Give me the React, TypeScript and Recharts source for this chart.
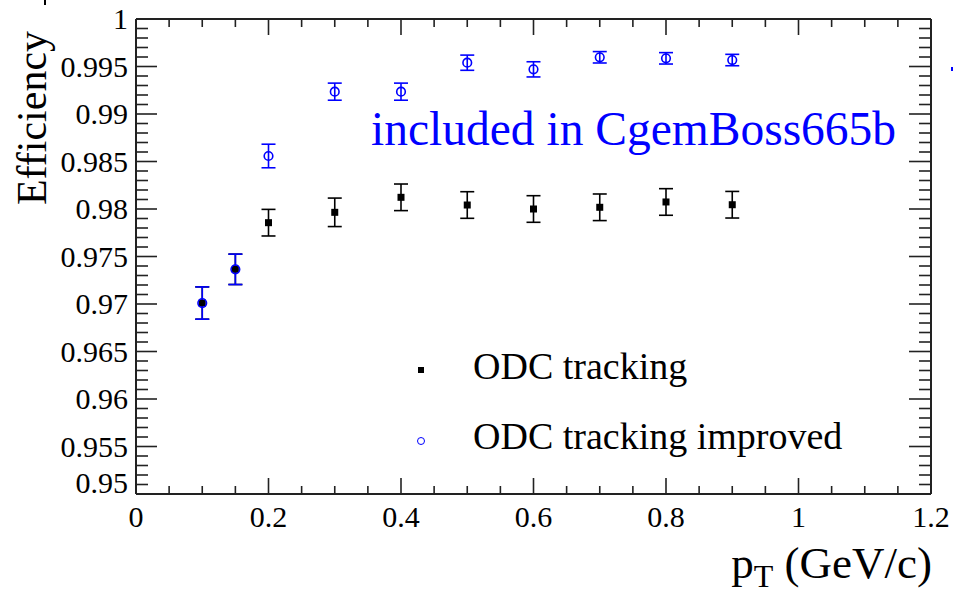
import React from "react";
import { ScatterChart, Scatter, XAxis, YAxis, ErrorBar } from "recharts";

const pt = [0.1, 0.15, 0.2, 0.3, 0.4, 0.5, 0.6, 0.7, 0.8, 0.9];
const odc = [0.9701, 0.97365, 0.97856, 0.97965, 0.98123, 0.98042, 0.98, 0.98018, 0.98074, 0.98045];
const odcErr = [0.0017, 0.0016, 0.0014, 0.0015, 0.0014, 0.0014, 0.0014, 0.0014, 0.0014, 0.0014];
const improved = [0.9701, 0.97365, 0.98558, 0.99235, 0.99235, 0.9954, 0.9947, 0.99597, 0.99586, 0.99568];
const improvedErr = [0.0017, 0.0016, 0.00124, 0.0009, 0.0009, 0.0008, 0.0008, 0.0006, 0.0006, 0.0006];

const xMajorTicks = [0, 0.2, 0.4, 0.6, 0.8, 1, 1.2];
const xMajorLabels = ["0", "0.2", "0.4", "0.6", "0.8", "1", "1.2"];
const yMajorTicks = [0.95, 0.955, 0.96, 0.965, 0.97, 0.975, 0.98, 0.985, 0.99, 0.995, 1];
const yMajorLabels = ["0.95", "0.955", "0.96", "0.965", "0.97", "0.975", "0.98", "0.985", "0.99", "0.995", "1"];

const xMinorPerMajor = 4;
const yMinorPerMajor = 5;

function subdivide(major: number[], n: number): number[] {
  const out: number[] = [];
  for (let i = 0; i < major.length - 1; i++) {
    const a = major[i];
    const b = major[i + 1];
    for (let k = 0; k < n; k++) out.push(+(a + ((b - a) * k) / n).toFixed(6));
  }
  out.push(major[major.length - 1]);
  return out;
}

const xTicks = subdivide(xMajorTicks, xMinorPerMajor);
const yTicks = subdivide(yMajorTicks, yMinorPerMajor);

const odcData = pt.map((x, i) => ({ x, y: odc[i], err: odcErr[i] }));
const impData = pt.map((x, i) => ({ x, y: improved[i], err: improvedErr[i] }));

const FONT = "'Liberation Serif', 'Times New Roman', serif";
const AX = "#222";
const BLUE = "#0000ff";

function majorIndex(list: number[], v: number) {
  return list.findIndex((m) => Math.abs(m - v) < 1e-7);
}

const BottomTick = (props: any) => {
  const { x, y, payload } = props;
  const mi = majorIndex(xMajorTicks, payload.value);
  const len = mi >= 0 ? 16 : 8;
  return (
    <g>
      <line x1={x} y1={y} x2={x} y2={y - len} stroke={AX} strokeWidth={1.6} />
      {mi >= 0 && (
        <text x={x} y={y + 33} textAnchor="middle" fontFamily={FONT} fontSize={30} fill="#000">
          {xMajorLabels[mi]}
        </text>
      )}
    </g>
  );
};

const TopTick = (props: any) => {
  const { x, y, payload } = props;
  const mi = majorIndex(xMajorTicks, payload.value);
  const len = mi >= 0 ? 16 : 8;
  return <line x1={x} y1={y} x2={x} y2={y + len} stroke={AX} strokeWidth={1.6} />;
};

const LeftTick = (props: any) => {
  const { x, y, payload } = props;
  const mi = majorIndex(yMajorTicks, payload.value);
  const len = mi >= 0 ? 21 : 12;
  const dy = mi === 0 ? -1 : 10;
  return (
    <g>
      <line x1={x} y1={y} x2={x + len} y2={y} stroke={AX} strokeWidth={1.6} />
      {mi >= 0 && (
        <text x={x - 8} y={y + dy} textAnchor="end" fontFamily={FONT} fontSize={30} fill="#000">
          {yMajorLabels[mi]}
        </text>
      )}
    </g>
  );
};

const RightTick = (props: any) => {
  const { x, y, payload } = props;
  const mi = majorIndex(yMajorTicks, payload.value);
  const len = mi >= 0 ? 22 : 12;
  return <line x1={x} y1={y} x2={x - len} y2={y} stroke={AX} strokeWidth={1.6} />;
};

const SquareShape = (props: any) => {
  const { cx, cy } = props;
  return <rect x={cx - 3.5} y={cy - 3.5} width={7} height={7} fill="#000" />;
};

const CircleShape = (props: any) => {
  const { cx, cy } = props;
  return <circle cx={cx} cy={cy} r={4.3} fill="none" stroke={BLUE} strokeWidth={1.6} />;
};

export default function App() {
  return (
    <div style={{ position: "absolute", left: 0, top: 0, width: 953, height: 595, background: "#fff", overflow: "hidden" }}>
      <ScatterChart width={953} height={595} margin={{ top: 0, right: 0, bottom: 0, left: 0 }}>
        <XAxis
          xAxisId="b"
          type="number"
          dataKey="x"
          domain={[0, 1.2]}
          ticks={xTicks}
          interval={0}
          allowDataOverflow
          height={101}
          tickSize={0}
          tickMargin={0}
          tickLine={false}
          tick={<BottomTick />}
          axisLine={{ stroke: AX, strokeWidth: 2 }}
        />
        <XAxis
          xAxisId="t"
          orientation="top"
          type="number"
          dataKey="x"
          domain={[0, 1.2]}
          ticks={xTicks}
          interval={0}
          allowDataOverflow
          height={19}
          tickSize={0}
          tickMargin={0}
          tickLine={false}
          tick={<TopTick />}
          axisLine={{ stroke: AX, strokeWidth: 2 }}
        />
        <YAxis
          yAxisId="l"
          type="number"
          dataKey="y"
          domain={[0.95, 1]}
          ticks={yTicks}
          interval={0}
          allowDataOverflow
          width={136}
          tickSize={0}
          tickMargin={0}
          tickLine={false}
          tick={<LeftTick />}
          axisLine={{ stroke: AX, strokeWidth: 2 }}
        />
        <YAxis
          yAxisId="r"
          orientation="right"
          type="number"
          dataKey="y"
          domain={[0.95, 1]}
          ticks={yTicks}
          interval={0}
          allowDataOverflow
          width={22}
          tickSize={0}
          tickMargin={0}
          tickLine={false}
          tick={<RightTick />}
          axisLine={{ stroke: AX, strokeWidth: 2 }}
        />
        <Scatter
          name="ODC tracking"
          data={odcData}
          xAxisId="b"
          yAxisId="l"
          shape={<SquareShape />}
          isAnimationActive={false}
        >
          <ErrorBar dataKey="err" direction="y" width={7} stroke="#000" strokeWidth={1.6} />
        </Scatter>
        <Scatter
          name="ODC tracking improved"
          data={impData}
          xAxisId="b"
          yAxisId="l"
          shape={<CircleShape />}
          isAnimationActive={false}
        >
          <ErrorBar dataKey="err" direction="y" width={7} stroke={BLUE} strokeWidth={1.6} />
        </Scatter>
      </ScatterChart>

      {/* legend */}
      <div style={{ position: "absolute", left: 418, top: 367, width: 6, height: 6, background: "#000" }} />
      <div
        style={{
          position: "absolute",
          left: 417,
          top: 437,
          width: 6,
          height: 6,
          border: `1.5px solid ${BLUE}`,
          borderRadius: "50%",
        }}
      />
      <div style={{ position: "absolute", left: 473, top: 345, fontFamily: FONT, fontSize: 38, lineHeight: "42px", color: "#000", whiteSpace: "nowrap" }}>
        ODC tracking
      </div>
      <div style={{ position: "absolute", left: 473, top: 415, fontFamily: FONT, fontSize: 38, lineHeight: "42px", color: "#000", whiteSpace: "nowrap" }}>
        ODC tracking improved
      </div>

      {/* annotation */}
      <div style={{ position: "absolute", left: 371, top: 102, fontFamily: FONT, fontSize: 47.5, lineHeight: "54px", color: BLUE, whiteSpace: "nowrap" }}>
        included in CgemBoss665b
      </div>

      {/* y title */}
      <div
        style={{
          position: "absolute",
          left: 32,
          top: 118,
          transform: "translate(-50%, -50%) rotate(-90deg)",
          fontFamily: FONT,
          fontSize: 42,
          lineHeight: "44px",
          color: "#000",
          whiteSpace: "nowrap",
        }}
      >
        Efficiency
      </div>

      {/* x title */}
      <div style={{ position: "absolute", right: 21, top: 543, fontFamily: FONT, fontSize: 45, lineHeight: "40px", color: "#000", whiteSpace: "nowrap" }}>
        p<sub style={{ fontSize: 32, verticalAlign: "-9px", lineHeight: 0 }}>T</sub> (GeV/c)
      </div>

      {/* small edge marks present in the source image */}
      <div style={{ position: "absolute", left: 44, top: 0, width: 1.5, height: 5, background: "#000" }} />
      <div style={{ position: "absolute", left: 951, top: 67, width: 2, height: 4, background: BLUE }} />
    </div>
  );
}
